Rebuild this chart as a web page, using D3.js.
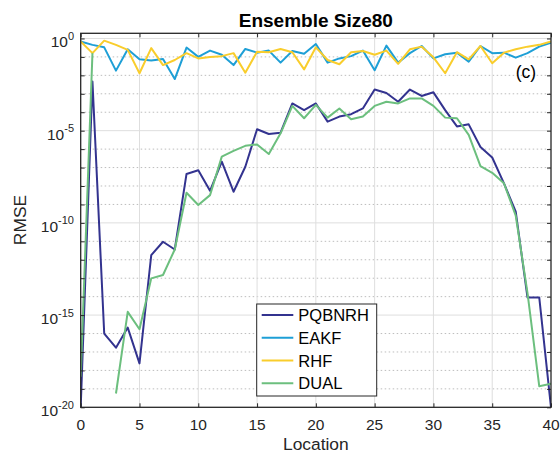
<!DOCTYPE html>
<html><head><meta charset="utf-8">
<script src="https://cdn.jsdelivr.net/npm/d3@7"></script>
<style>body{margin:0;background:#fff}svg{display:block}text{font-family:"Liberation Sans",Arial,Helvetica,sans-serif;fill:#262626}</style>
</head><body>
<svg id="c" width="560" height="456"></svg>
<script>
const locations = d3.range(0, 41);
const PQBNRH = [1e-20,4.6e-3,1e-16,1.7e-17,2.1e-16,2.4e-18,1.8e-12,9.5e-12,3.6e-12,4.5e-8,7.2e-8,5.5e-9,2.1e-7,4.9e-9,1.1e-7,1.2e-5,6.6e-6,7.8e-6,3.0e-4,1.3e-4,3.0e-4,3.1e-5,5.8e-5,7.8e-5,1.6e-4,1.7e-3,1.1e-3,3.7e-4,1.7e-3,7.6e-4,1.2e-3,1.3e-4,1.7e-5,2.2e-5,1.3e-6,3.5e-7,1.4e-8,4.1e-10,9.1e-15,9.1e-15,1e-20];
const EAKF = [0.68,0.45,0.33,0.018,0.26,0.074,0.063,0.078,0.0063,0.32,0.10,0.22,0.13,0.036,0.27,0.17,0.22,0.049,0.21,0.15,0.50,0.049,0.083,0.11,0.22,0.019,0.41,0.049,0.16,0.39,0.083,0.14,0.17,0.055,0.39,0.16,0.17,0.091,0.16,0.36,0.59];
const RHF = [0.68,0.16,0.76,0.45,0.24,0.013,0.30,0.036,0.068,0.16,0.083,0.10,0.11,0.16,0.014,0.19,0.18,0.27,0.18,0.021,0.33,0.068,0.04,0.18,0.21,0.13,0.22,0.042,0.26,0.36,0.095,0.013,0.18,0.074,0.39,0.045,0.17,0.26,0.36,0.45,0.68];
const DUAL = [4.5e-19,0.16,null,5.6e-20,1.5e-15,1.7e-16,9.8e-14,1.5e-13,3.6e-12,4.3e-9,9.3e-10,3.2e-9,3.9e-7,8.1e-7,1.5e-6,1.8e-6,5.4e-7,7.2e-6,2.2e-4,4.7e-5,2.5e-4,5.1e-5,1.6e-4,4.2e-5,5.8e-5,2.2e-4,3.7e-4,3.0e-4,5.6e-4,5.6e-4,2.2e-4,5.1e-5,4.7e-5,5.9e-6,1.2e-7,5.2e-8,1.4e-8,2.5e-10,1.6e-14,1.4e-19,1.9e-19];
const seriesNames = ["PQBNRH","EAKF","RHF","DUAL"];
const xTicks = [0,5,10,15,20,25,30,35,40];
const yMajorExp = [0,-5,-10,-15,-20];
const title = "Ensemble Size80";
const panelTag = "(c)";

const colors = {PQBNRH:"#33338f", EAKF:"#1e9fd6", RHF:"#f9cd2c", DUAL:"#6cbf7e"};
const seriesData = {PQBNRH, EAKF, RHF, DUAL};

const W=560,H=456, L=80.7, R=551, T=33.3, B=407.3;
const svg = d3.select("#c");
const x = d3.scaleLinear().domain([0,40]).range([L,R]);
const y = d3.scaleLog().domain([1e-20, Math.pow(10,0.28)]).range([B,T]);

const g = svg.append("g");
// minor dotted grid at each decade
const decades = d3.range(-19, 0).filter(e => e % 5 !== 0);
g.selectAll(".minor").data(decades).join("line")
  .attr("x1",L).attr("x2",R).attr("y1",e=>y(Math.pow(10,e))).attr("y2",e=>y(Math.pow(10,e)))
  .attr("stroke","#bdbdbd").attr("stroke-width",1).attr("stroke-dasharray","1.5,2.5");
// major grid
g.selectAll(".majy").data(yMajorExp.filter(e=>e>-20)).join("line")
  .attr("x1",L).attr("x2",R).attr("y1",e=>y(Math.pow(10,e))).attr("y2",e=>y(Math.pow(10,e)))
  .attr("stroke","#dedede").attr("stroke-width",1);
g.selectAll(".majx").data(xTicks.slice(1,-1)).join("line")
  .attr("x1",d=>x(d)).attr("x2",d=>x(d)).attr("y1",T).attr("y2",B)
  .attr("stroke","#dedede").attr("stroke-width",1);

// lines
svg.append("clipPath").attr("id","clip").append("rect").attr("x",L).attr("y",T-1).attr("width",R-L).attr("height",B-T+2);
const line = d3.line().defined(d=>d[1]!=null && d[1]>0).x(d=>x(d[0])).y(d=>y(d[1]));
const lg = svg.append("g").attr("clip-path","url(#clip)");
seriesNames.forEach(n=>{
  lg.append("path").datum(locations.map((l,i)=>[l, seriesData[n][i]]))
    .attr("d",line).attr("fill","none").attr("stroke",colors[n]).attr("stroke-width",2).attr("stroke-linejoin","round");
});

// axes box and ticks
const ax = svg.append("g");
const xAxisB = d3.axisBottom(x).tickValues(xTicks).tickSize(-4).tickFormat("");
const xAxisT = d3.axisTop(x).tickValues(xTicks).tickSize(-4).tickFormat("");
const yTickVals = d3.range(-20,1).map(e=>Math.pow(10,e));
const yAxisL = d3.axisLeft(y).tickValues(yTickVals).tickSize(-4).tickFormat("");
const yAxisR = d3.axisRight(y).tickValues(yTickVals).tickSize(-4).tickFormat("");
ax.append("g").attr("transform",`translate(0,${B})`).call(xAxisB);
ax.append("g").attr("transform",`translate(0,${T})`).call(xAxisT);
ax.append("g").attr("transform",`translate(${L},0)`).call(yAxisL);
ax.append("g").attr("transform",`translate(${R},0)`).call(yAxisR);
ax.selectAll(".domain").remove();
ax.selectAll(".tick line").attr("stroke","#262626").attr("stroke-width",1);
svg.append("rect").attr("x",L).attr("y",T).attr("width",R-L).attr("height",B-T)
  .attr("fill","none").attr("stroke","#262626").attr("stroke-width",1.3);

// tick labels
svg.selectAll(".xl").data(xTicks).join("text").attr("x",d=>x(d)).attr("y",429.5)
  .attr("text-anchor","middle").attr("font-size",15.5).text(d=>d);
const yl = svg.selectAll(".yl").data(yMajorExp).join("text")
  .attr("x",74).attr("y",e=>y(Math.pow(10,e))+9).attr("text-anchor","end").attr("font-size",15.5);
yl.append("tspan").text("10");
yl.append("tspan").attr("dy",-7.5).attr("font-size",11).text(e=>e===0?"0":"-"+(-e));

// labels
svg.append("text").attr("x",(L+R)/2).attr("y",450).attr("text-anchor","middle").attr("font-size",17.4).text("Location");
svg.append("text").attr("transform","translate(26,220) rotate(-90)").attr("text-anchor","middle").attr("font-size",17.4).text("RMSE");
svg.append("text").attr("x",(L+R)/2).attr("y",26.5).attr("text-anchor","middle").attr("font-size",19).attr("font-weight","bold").attr("fill","#000").style("fill","#000").text(title);
svg.append("text").attr("x",526).attr("y",78).attr("text-anchor","middle").attr("font-size",17.5).attr("fill","#000").style("fill","#000").text(panelTag);

// legend
const leg = svg.append("g");
leg.append("rect").attr("x",256.7).attr("y",304).attr("width",120).attr("height",92)
  .attr("fill","#fff").attr("stroke","#262626").attr("stroke-width",1);
const ly = d3.scalePoint().domain(seriesNames).range([315,383.3]);
seriesNames.forEach(n=>{
  leg.append("line").attr("x1",261.7).attr("x2",293.3).attr("y1",ly(n)).attr("y2",ly(n)).attr("stroke",colors[n]).attr("stroke-width",2);
  leg.append("text").attr("x",298.3).attr("y",ly(n)+6).attr("font-size",16.5).style("fill","#000").text(n);
});
</script>
</body></html>
